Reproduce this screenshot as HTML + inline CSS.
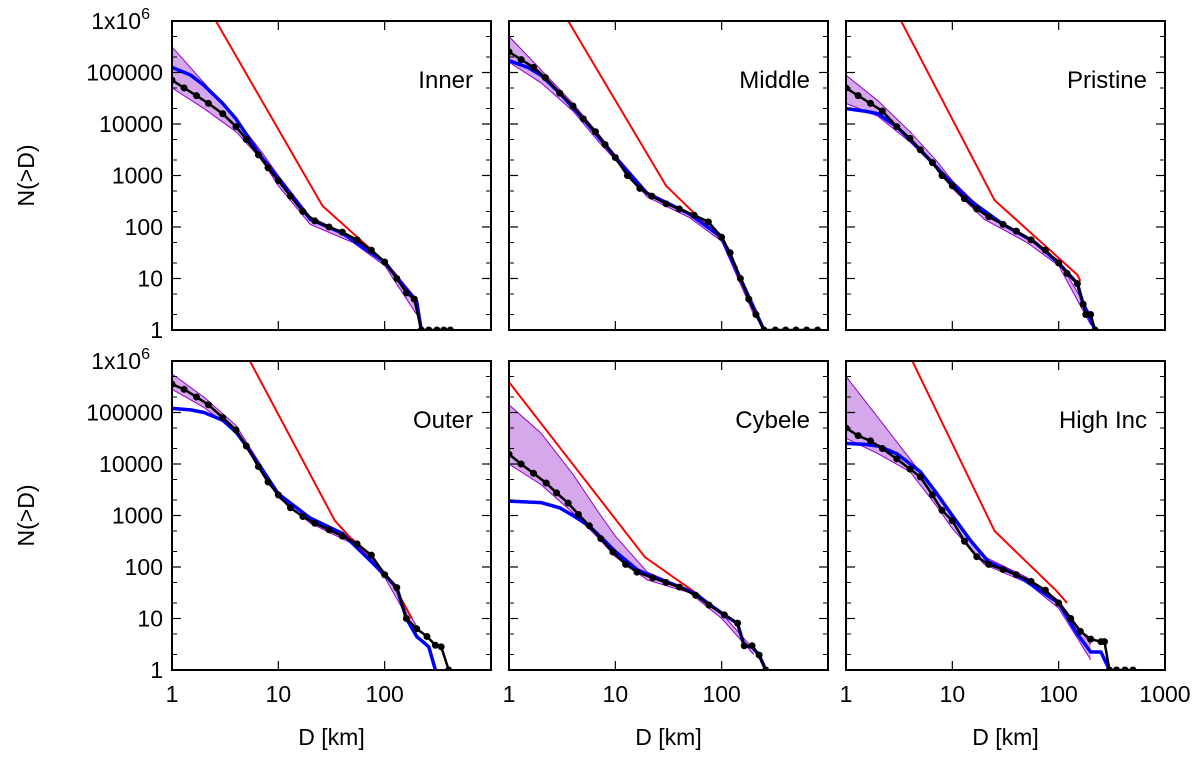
<!DOCTYPE html>
<html><head><meta charset="utf-8"><style>
body{margin:0;background:#fff}
svg text{font-family:"Liberation Sans",sans-serif;fill:#000}
</style></head><body>
<svg id="c" width="1200" height="755" viewBox="0 0 1200 755" xmlns="http://www.w3.org/2000/svg"></svg>
<script>
const panelNames=["Inner","Middle","Pristine","Outer","Cybele","High Inc"];
const purpleD=[1,2,4,7,10,20,50,100,200];
const blackD=[
[1,1.3,1.7,2.2,3,4,5,6.5,8,10,13,17,22,30,40,55,75,100,130,160,190,221,260,310,360,415],
[1,1.3,1.7,2.2,3,4,5,6.5,8,10,13,17,22,30,40,55,75,100,120,150,180,210,250,320,400,500,630,800],
[1,1.3,1.7,2.2,3,4,5,6.5,8,10,13,17,22,30,40,55,75,100,120,150,170,180,200,220],
[1,1.3,1.7,2.2,3,4,5,6.5,8,10,13,17,22,30,40,55,75,100,130,160,200,250,300,340,400],
[1,1.3,1.7,2.24,2.8,3.6,4.5,5.7,7.3,9.5,12.5,16,22.5,30,40,57,76,106,141,163,193,225,260],
[1,1.3,1.7,2.2,3,4,5,6.5,8,10,13,17,22,30,40,55,75,100,130,160,200,250,270,300,350,420,500]];
const blackLogN=[
[4.85,4.7,4.55,4.4,4.2,3.95,3.7,3.4,3.15,2.9,2.6,2.3,2.12,2.0,1.9,1.75,1.55,1.32,1.0,0.72,0.6,0,0,0,0,0],
[5.4,5.25,5.1,4.9,4.6,4.35,4.1,3.85,3.6,3.35,3.0,2.75,2.6,2.45,2.35,2.23,2.1,1.8,1.5,1.0,0.6,0.3,0,0,0,0,0,0],
[4.7,4.55,4.4,4.25,3.95,3.72,3.5,3.25,3.0,2.8,2.55,2.35,2.2,2.05,1.92,1.75,1.55,1.3,1.1,0.9,0.5,0.3,0.3,0],
[5.55,5.45,5.3,5.15,4.9,4.66,4.35,3.95,3.65,3.4,3.15,2.98,2.85,2.72,2.6,2.45,2.23,1.85,1.6,1.0,0.8,0.65,0.48,0.45,0],
[4.19,4.0,3.82,3.63,3.44,3.24,3.02,2.8,2.55,2.29,2.05,1.9,1.79,1.7,1.61,1.45,1.26,1.07,0.91,0.47,0.47,0.29,0],
[4.7,4.55,4.45,4.3,4.1,3.9,3.75,3.4,3.1,2.9,2.5,2.2,2.05,1.95,1.85,1.72,1.55,1.3,1.0,0.75,0.6,0.55,0.55,0,0,0,0]];
const blueD=[
[1,1.5,2,3,4,5,7,10,20,40,100,150,200,221],
[1,1.5,2,3,5,8,10,20,50,100,150,250],
[1,1.5,2,3,5,8,10,15,30,60,100,150,170,190,220],
[1,1.5,2,3,4,5,7,10,20,40,100,130,160,200,260,300],
[1,2,3,4,5,6,8,10,16,22,40,57,76,106,141,163,193,225,260],
[1,1.5,2,3,5,7,10,15,22,40,100,150,200,250,300]];
const blueLogN=[
[5.1,4.95,4.75,4.4,4.1,3.8,3.35,2.95,2.15,1.88,1.32,0.85,0.55,0],
[5.23,5.1,4.95,4.6,4.1,3.6,3.35,2.65,2.25,1.8,1.0,0],
[4.3,4.25,4.2,3.95,3.5,3.05,2.85,2.5,2.05,1.7,1.3,0.9,0.5,0.3,0],
[5.08,5.05,5.0,4.85,4.62,4.35,3.9,3.42,2.95,2.65,1.85,1.6,1.0,0.65,0.45,0],
[3.28,3.25,3.15,3.0,2.87,2.75,2.5,2.3,1.95,1.82,1.62,1.48,1.28,1.07,0.9,0.47,0.45,0.29,0],
[4.4,4.38,4.35,4.2,3.85,3.45,3.0,2.5,2.1,1.85,1.3,0.7,0.35,0.35,0]];
const redD=[[2.59,26,89,129],[3.6,30,100,140],[3.3,25,150,160],[5.4,34,124,180],[1,19,57],[4.2,25,95,120]];
const redLogN=[[6,2.41,1.42,1.07],[6,2.8,1.75,1.2],[6,2.52,1.07,0.95],[6,2.9,1.62,1.0],[5.59,2.19,1.5],[6,2.7,1.54,1.3]];
const purpleHi=[
[5.5,4.8,4.1,3.45,3.0,2.2,1.8,1.35,0.6],[5.7,5.05,4.4,3.8,3.4,2.68,2.28,1.85,0.45],
[4.95,4.45,3.85,3.3,2.9,2.3,1.8,1.35,0.3],[5.75,5.3,4.75,3.95,3.45,2.95,2.55,1.9,0.85],
[5.15,4.6,3.8,3.05,2.6,1.9,1.55,1.1,0.4],[5.7,4.9,4.1,3.45,2.95,2.2,1.8,1.35,0.5]];
const purpleLo=[
[4.7,4.3,3.85,3.3,2.8,2.05,1.7,1.25,0.3],[5.2,4.8,4.25,3.65,3.3,2.58,2.18,1.72,0.3],
[4.4,4.15,3.65,3.15,2.75,2.15,1.7,1.25,0.1],[5.45,5.1,4.62,3.85,3.35,2.85,2.45,1.8,0.7],
[4.0,3.6,3.05,2.55,2.2,1.75,1.5,1.0,0.3],[4.5,4.2,3.85,3.2,2.75,2.05,1.7,1.2,0.2]];
const yTickLabels=["1","10","100","1000","10000","100000","1x10"];
const xTickLabels=["1","10","100","1000"];

const NS="http://www.w3.org/2000/svg";
const svg=document.getElementById('c');
function mk(tag,at,parent){const e=document.createElementNS(NS,tag);for(const k in at)e.setAttribute(k,at[k]);(parent||svg).appendChild(e);return e;}
const colL=[172,509,846],rowT=[21,361],W=319,H=309;
const defs=mk('defs',{});
panelNames.forEach((name,p)=>{
  const L=colL[p%3],T=rowT[Math.floor(p/3)];
  const xs=d=>L+Math.log10(d)/3*W;
  const ys=l=>T+(6-l)/6*H;
  const g=mk('g',{});
  
  
  const cp=mk('clipPath',{id:'cp'+p},defs);
  mk('rect',{x:L,y:T,width:W,height:H},cp);
  const dg=mk('g',{'clip-path':'url(#cp'+p+')'},g);
  const pts=(D,V)=>D.map((d,i)=>xs(d).toFixed(1)+','+ys(V[i]).toFixed(1)).join(' ');
  const band=mk('polygon',{points:pts(purpleD,purpleHi[p])+' '+pts(purpleD.slice().reverse(),purpleLo[p].slice().reverse()),fill:'#b060d8','fill-opacity':'0.55',stroke:'none'},dg);
  
  
  [purpleHi[p],purpleLo[p]].forEach(arr=>{
    const pl=mk('polyline',{points:pts(purpleD,arr),fill:'none',stroke:'#9400d3','stroke-width':1},dg);
    
    
  });
  const red=mk('polyline',{points:pts(redD[p],redLogN[p]),fill:'none',stroke:'#f00','stroke-width':2},dg);
  
  
  const blue=mk('polyline',{points:pts(blueD[p],blueLogN[p]),fill:'none',stroke:'#0000ff','stroke-width':3.5,'stroke-linejoin':'round'},dg);
  
  
  const blk=mk('polyline',{points:pts(blackD[p],blackLogN[p]),fill:'none',stroke:'#000','stroke-width':2.5},dg);
  
  
  blackD[p].forEach((d,i)=>{
    const c=mk('circle',{cx:xs(d),cy:ys(blackLogN[p][i]),r:3.5,fill:'#000'},dg);
    
    
  });
  for(let k=0;k<=6;k++){
    const y=ys(k);
    mk('line',{x1:L,x2:L+9,y1:y,y2:y,stroke:'#000','stroke-width':1.2},g);
    mk('line',{x1:L+W-9,x2:L+W,y1:y,y2:y,stroke:'#000','stroke-width':1.2},g);
    if(k<6)[2,5].forEach(m=>{const yy=ys(k+Math.log10(m));
      mk('line',{x1:L,x2:L+5,y1:yy,y2:yy,stroke:'#000'},g);
      mk('line',{x1:L+W-5,x2:L+W,y1:yy,y2:yy,stroke:'#000'},g);});
    if(p%3===0){
      const t=mk('text',{x:L-9,y:y+8,'text-anchor':'end','font-size':23},g);
      t.textContent=yTickLabels[k];
      
      
      if(k===6){t.setAttribute('x',L-22);const s=mk('tspan',{'font-size':16,dy:-10},t);s.textContent='6';}
    }
  }
  for(let k=0;k<=3;k++){
    const x=xs(Math.pow(10,k));
    mk('line',{x1:x,x2:x,y1:T+H,y2:T+H-9,stroke:'#000','stroke-width':1.2},g);
    mk('line',{x1:x,x2:x,y1:T,y2:T+9,stroke:'#000','stroke-width':1.2},g);
    if(p>=3 && (k<3 || p===5)){
      const t=mk('text',{x:x,y:T+H+32,'text-anchor':'middle','font-size':23},g);
      t.textContent=xTickLabels[k];
      
      
    }
  }
  mk('rect',{x:L,y:T,width:W,height:H,fill:'none',stroke:'#000','stroke-width':2},g);
  const lab=mk('text',{x:L+W-18,y:T+67,'text-anchor':'end','font-size':24},g);
  lab.textContent=name;
  
  
  if(p>=3){
    const xt=mk('text',{x:L+W/2,y:745,'text-anchor':'middle','font-size':23},g);
    xt.textContent='D [km]';
    
    
  }
  if(p%3===0){
    const yt=mk('text',{x:0,y:0,'text-anchor':'middle','font-size':23,transform:'translate(34,'+(T+H/2)+') rotate(-90)'},g);
    yt.textContent='N(>D)';
    
    
  }
});
</script>
</body></html>
